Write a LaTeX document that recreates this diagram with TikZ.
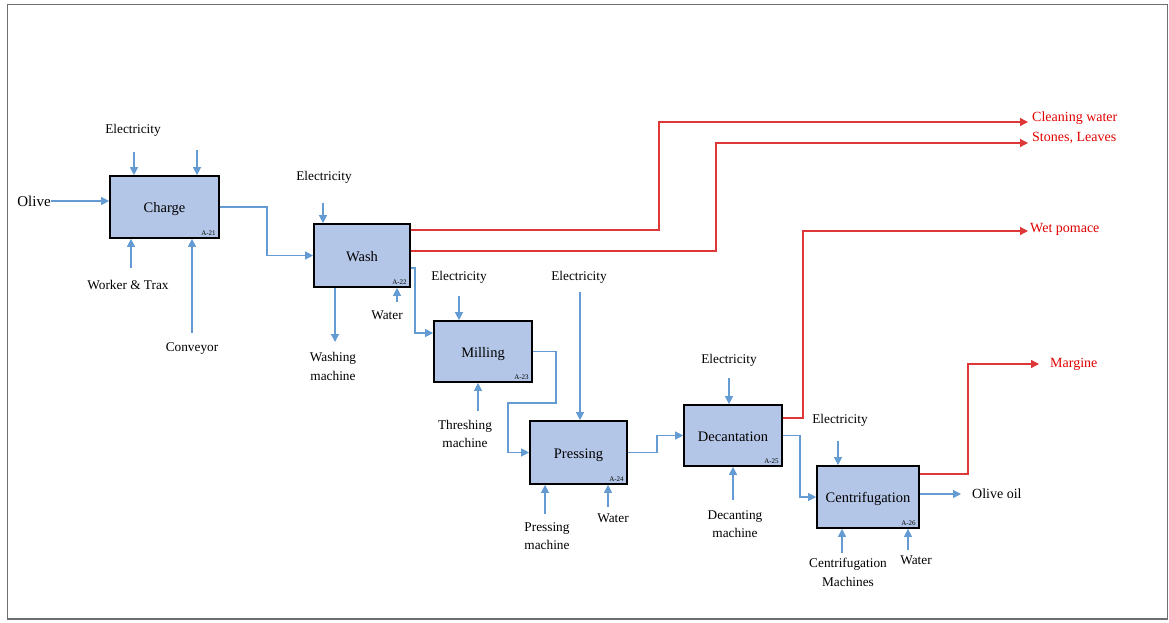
\documentclass[tikz,border=0pt]{standalone}
\usepackage{fontspec}
\setmainfont{Liberation Serif}
\usetikzlibrary{arrows.meta}
\definecolor{boxfill}{RGB}{180,198,231}
\definecolor{flowblue}{RGB}{100,155,210}
\definecolor{flowred}{RGB}{222,55,55}
\definecolor{redtext}{RGB}{225,0,0}
\definecolor{framegray}{RGB}{110,110,110}
\tikzset{
  proc/.style={draw=black, line width=1.7pt, fill=boxfill, inner sep=0pt, text height=12pt, text depth=0.5pt, font=\fontsize{14.5}{16}\selectfont},
  idlab/.style={inner sep=0pt, font=\fontsize{7}{8}\selectfont, anchor=south east},
  lab/.style={inner sep=0pt, align=center, font=\fontsize{13.3}{18.5}\selectfont},
  redlab/.style={inner sep=0pt, anchor=west, text=redtext, font=\fontsize{14}{16}\selectfont},
  barrow/.style={draw=flowblue, line width=1.3pt, -{Triangle[width=8pt,length=8pt]}},
  rarrow/.style={draw=flowred, line width=1.3pt, -{Triangle[width=8pt,length=8pt]}}
}
\begin{document}
\begin{tikzpicture}[x=1pt,y=-1pt]
\useasboundingbox (0,0) rectangle (1169,623);
\draw[framegray, line width=1.2pt] (7.5,4.5) rectangle (1167.5,619);

% process boxes
\node[proc, minimum width=109pt, minimum height=62pt] (charge) at (164.5,207) {Charge};
\node[proc, minimum width=96pt, minimum height=63pt] (wash) at (362,255.5) {Wash};
\node[proc, minimum width=98pt, minimum height=61pt] (milling) at (483,351.5) {Milling};
\node[proc, minimum width=97pt, minimum height=63pt] (pressing) at (578.5,452.5) {Pressing};
\node[proc, minimum width=98pt, minimum height=61pt] (decant) at (733,435.5) {Decantation};
\node[proc, minimum width=102pt, minimum height=62pt] (centr) at (868,497) {Centrifugation};

\node[idlab] (id21) at ([xshift=-4pt,yshift=3pt]charge.south east) {A-21};
\node[idlab] (id22) at ([xshift=-4pt,yshift=3pt]wash.south east) {A-22};
\node[idlab] (id23) at ([xshift=-4pt,yshift=3pt]milling.south east) {A-23};
\node[idlab] (id24) at ([xshift=-4pt,yshift=3pt]pressing.south east) {A-24};
\node[idlab] (id25) at ([xshift=-4pt,yshift=3pt]decant.south east) {A-25};
\node[idlab] (id26) at ([xshift=-4pt,yshift=3pt]centr.south east) {A-26};

% labels
\node[lab, font=\fontsize{15}{17}\selectfont] (olive) at (34,201) {Olive};
\node[lab] (el1) at (133,130) {Electricity};
\node[lab] (worker) at (128,285) {Worker \& Trax};
\node[lab] (conv) at (192,349) {Conveyor};
\node[lab] (el2) at (324,177) {Electricity};
\node[lab] (washm) at (333,366.5) {Washing\\machine};
\node[lab] (water1) at (387,315) {Water};
\node[lab] (el3) at (459,277) {Electricity};
\node[lab] (thresh) at (465,434) {Threshing\\machine};
\node[lab] (el4) at (579,277) {Electricity};
\node[lab] (pressm) at (547,536) {Pressing\\machine};
\node[lab] (water2) at (613,518) {Water};
\node[lab] (el5) at (729,360) {Electricity};
\node[lab] (decm) at (735,524) {Decanting\\machine};
\node[lab] (el6) at (840,420) {Electricity};
\node[lab] (centm) at (848,572.5) {Centrifugation\\Machines};
\node[lab] (water3) at (916,560) {Water};
\node[lab, anchor=west, font=\fontsize{14}{16}\selectfont] (oil) at (972,494) {Olive oil};
\node[redlab] (cleanw) at (1032,118) {Cleaning water};
\node[redlab] (stones) at (1032,138) {Stones, Leaves};
\node[redlab] (pomace) at (1030,229) {Wet pomace};
\node[redlab] (marg) at (1050,364) {Margine};

% inputs / mechanisms
\draw[barrow] (olive.east) -- (charge.west |- olive.east);
\draw[barrow] (134,152) coordinate (c1) -- (c1 |- charge.north);
\draw[barrow] (197,150) coordinate (c2) -- (c2 |- charge.north);
\draw[barrow] (131,268) coordinate (c3) -- (c3 |- charge.south);
\draw[barrow] (192,333) coordinate (c4) -- (c4 |- charge.south);
\draw[barrow] (323,203) coordinate (c5) -- (c5 |- wash.north);
\draw[barrow] (wash.south -| 335,0) -- (335,342) coordinate (c6);
\draw[barrow] (397,302) coordinate (c7) -- (c7 |- wash.south);
\draw[barrow] (459,296) coordinate (c8) -- (c8 |- milling.north);
\draw[barrow] (478,411) coordinate (c9) -- (c9 |- milling.south);
\draw[barrow] (580,292) coordinate (c10) -- (c10 |- pressing.north);
\draw[barrow] (545,514) coordinate (c11) -- (c11 |- pressing.south);
\draw[barrow] (608,507) coordinate (c12) -- (c12 |- pressing.south);
\draw[barrow] (729,378) coordinate (c13) -- (c13 |- decant.north);
\draw[barrow] (733,500) coordinate (c14) -- (c14 |- decant.south);
\draw[barrow] (838,441) coordinate (c15) -- (c15 |- centr.north);
\draw[barrow] (842,553) coordinate (c16) -- (c16 |- centr.south);
\draw[barrow] (908,550) coordinate (c17) -- (c17 |- centr.south);

% main flow
\draw[barrow] (charge.east) -- (267,207) -- (267,255.5) -- (wash.west);
\draw[barrow] ([yshift=-12.5pt]wash.east) -- (415,268) -- (415,333) -- ([yshift=18.5pt]milling.west);
\draw[barrow] (milling.east) -- (556,351.5) -- (556,403) -- (508,403) -- (508,452.5) -- (pressing.west);
\draw[barrow] (pressing.east) -- (657,452.5) -- (657,435.5) -- (decant.west);
\draw[barrow] (decant.east) -- (800,435.5) -- (800,497) -- (centr.west);
\draw[barrow] ([yshift=3pt]centr.east) -- ([xshift=-11pt]oil.west);

% waste outputs
\draw[rarrow] ([yshift=25.5pt]wash.east) -- (659,230) -- (659,122) -- ([xshift=-4pt]cleanw.west |- 0,122);
\draw[rarrow] ([yshift=4.5pt]wash.east) -- (716,251) -- (716,143) -- ([xshift=-4pt]stones.west |- 0,143);
\draw[rarrow] ([yshift=17.5pt]decant.east) -- (803,418) -- (803,231) -- ([xshift=-2pt]pomace.west |- 0,231);
\draw[rarrow] ([yshift=23pt]centr.east) -- (968,474) -- (968,364) -- ([xshift=-11pt]marg.west);
\end{tikzpicture}
\end{document}
